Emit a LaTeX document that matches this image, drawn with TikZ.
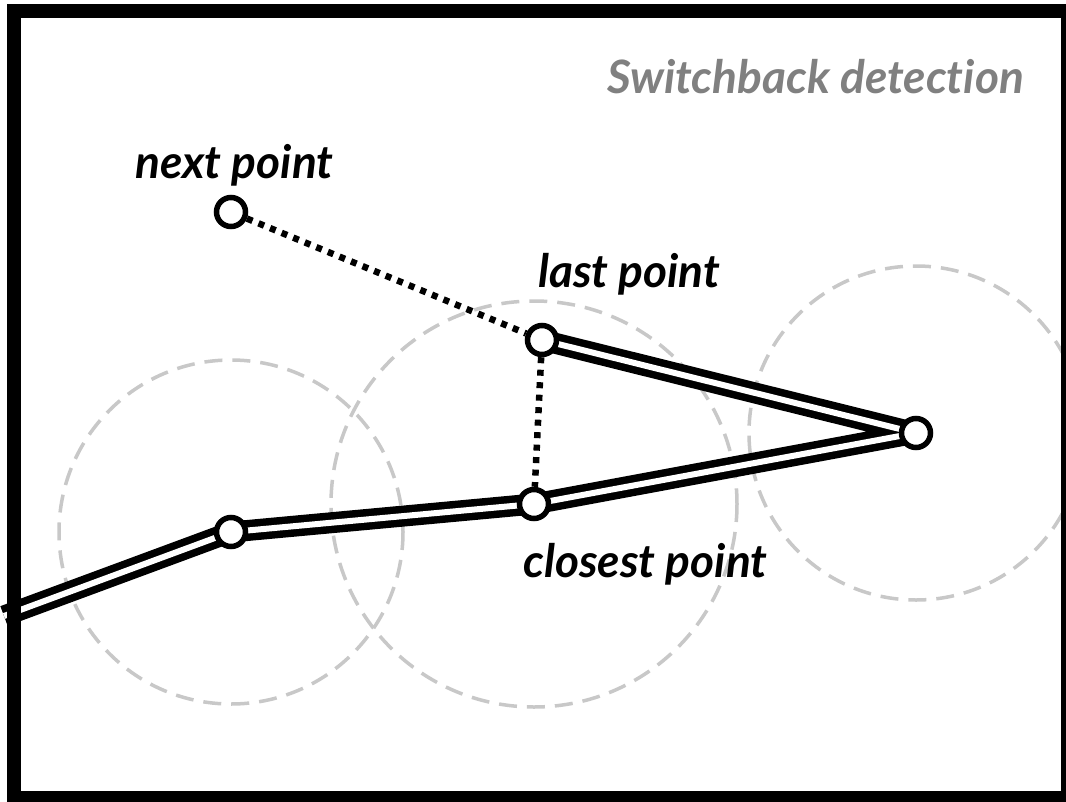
\documentclass[tikz,border=0pt]{standalone}
\usepackage{fontspec}
\setmainfont{Lato}[Ligatures=NoCommon]
\pgfdeclarelayer{circles}
\pgfdeclarelayer{lines}
\pgfdeclarelayer{front}
\pgfsetlayers{circles,lines,main,front}
\definecolor{ringgray}{RGB}{200,200,200}
\definecolor{titlegray}{RGB}{128,128,128}
\tikzset{
  pt/.style={circle, draw=black, fill=white, line width=5.5pt, minimum size=29pt, inner sep=0pt},
  track/.style={draw=black, line width=7.5pt, double=white, double distance=6pt, line join=round},
  dotline/.style={draw=black, line width=6.5pt, dash pattern=on 6pt off 6.5pt},
  ring/.style={draw=ringgray, line width=3.5pt, dash pattern=on 18pt off 10pt},
  lbl/.style={anchor=base west, inner sep=0pt, font=\fontsize{46}{54}\selectfont\bfseries\itshape},
}
\begin{document}
\begin{tikzpicture}[x=1pt, y=-1pt]
\useasboundingbox (0,0) rectangle (1066,801);
\clip (0,0) rectangle (1066,801);

\node[pt] (next) at (231,212) {};
\node[pt] (last) at (542,340) {};
\node[pt] (closest) at (534,504) {};
\node[pt] (apex) at (916,433) {};
\node[pt] (left) at (231,532) {};
\coordinate (start) at (4,616);

\begin{pgfonlayer}{circles}
\fill[white] (0,0) rectangle (1066,801);
\draw[ring] (left.center) circle[radius=172];
\draw[ring] (closest.center) circle[radius=203];
\draw[ring] (apex.center) circle[radius=167];
\end{pgfonlayer}

\begin{pgfonlayer}{lines}
\draw[track] (start) -- (left.center) -- (closest.center) -- (apex.center) -- (last.center);
\draw[dotline] (next) -- (last);
\draw[dotline] (last) -- (closest);
\end{pgfonlayer}

\node[lbl] (tnext) at (135,178) {next point};
\node[lbl] (tlast) at (538,287) {last point};
\node[lbl] (tclosest) at (523,577) {closest point};
\node[lbl, text=titlegray] (title) at (607,93) {Switchback detection};

\begin{pgfonlayer}{front}
\draw[black, line width=14pt] (13.5,11) rectangle (1068,798);
\end{pgfonlayer}
\end{tikzpicture}
\end{document}
